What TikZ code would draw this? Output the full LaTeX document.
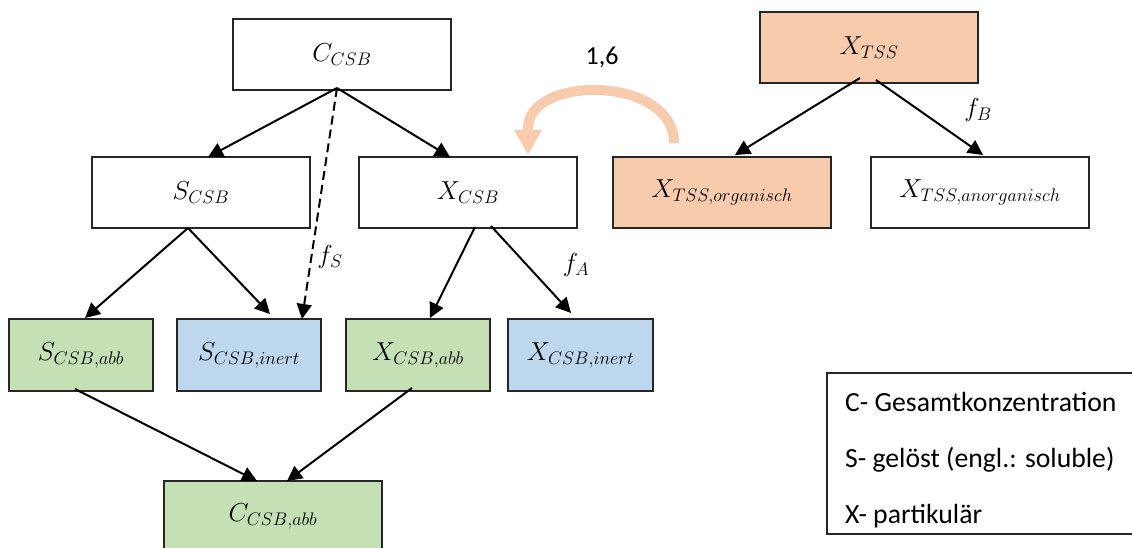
\RequirePackage{fix-cm}
\documentclass[tikz,border=0pt]{standalone}
\usepackage{fontspec}
\setmainfont{Carlito}
\usetikzlibrary{arrows.meta,calc}
\definecolor{orgfill}{HTML}{F8CBAD}
\definecolor{greenfill}{HTML}{C5E0B4}
\definecolor{bluefill}{HTML}{BDD7EE}
\definecolor{arcol}{HTML}{F8CBAD}
\tikzset{
 box/.style={draw=black!85, line width=1.3pt, inner sep=0pt, outer sep=0pt, font=\fontsize{26}{31}\selectfont},
 bigbox/.style={box, minimum width=218pt, minimum height=71pt},
 smallbox/.style={box, minimum width=144pt, minimum height=72pt},
 conn/.style={line width=2pt, -{Triangle[length=15pt,width=15pt]}},
 dconn/.style={conn, dash pattern=on 9pt off 5pt},
 flab/.style={font=\fontsize{26}{31}\selectfont, inner sep=0pt},
 legtext/.style={font=\fontsize{27.7}{32}\selectfont, anchor=base west, inner sep=0pt},
 orarrow/.style={draw=arcol, line width=10pt, -{Triangle[length=25pt,width=26pt]}},
}
\begin{document}
\begin{tikzpicture}[x=1pt,y=-1pt]
\useasboundingbox (0,0) rectangle (1132,548);
\clip (0,0) rectangle (1132,548);
% boxes
\node[bigbox] (ccsb) at (342,54.5) {$C_{CSB}$};
\node[bigbox] (scsb) at (201,192.5) {$S_{CSB}$};
\node[bigbox] (xcsb) at (468,192.5) {$X_{CSB}$};
\node[bigbox, fill=orgfill] (xtss) at (869,47.5) {$X_{TSS}$};
\node[bigbox, fill=orgfill] (xorg) at (722,192.5) {$X_{TSS,organisch}$};
\node[bigbox] (xanorg) at (980,192.5) {$X_{TSS,anorganisch}$};
\node[smallbox, fill=greenfill] (sabb) at (81,355) {$S_{CSB,abb}$};
\node[smallbox, fill=bluefill] (sinert) at (249,355) {$S_{CSB,inert}$};
\node[smallbox, fill=greenfill] (xabb) at (418,355) {$X_{CSB,abb}$};
\node[smallbox, fill=bluefill, minimum width=145pt] (xinert) at (580.5,355) {$X_{CSB,inert}$};
\node[bigbox, fill=greenfill] (cabb) at (273,516.5) {$C_{CSB,abb}$};
% legend
\node[draw=black!85, line width=1.3pt, inner sep=0pt, outer sep=0pt, anchor=north west,
      minimum width=320pt, minimum height=161pt] (legend) at (827,373) {};
\node[legtext] (leg1) at (845,411) {C- Gesamtkonzentration};
\node[legtext] (leg2) at (845,467) {S- gelöst (engl.: soluble)};
\node[legtext] (leg3) at (845,523) {X- partikulär};
% apex points
\coordinate (capex) at ($(ccsb.south)+(-5,-2)$);
\coordinate (sapex) at ($(scsb.south)+(-13,0)$);
% connectors
\draw[conn] (capex) -- ($(scsb.north)+(7,0)$);
\draw[conn] (capex) -- ($(xcsb.north)+(-18,0)$);
\draw[dconn] (capex) -- ($(sinert.north)+(53,0)$);
\draw[conn] (sapex) -- ($(sabb.north)+(4,-1)$);
\draw[conn] (sapex) -- ($(sinert.north)+(21,-5)$);
\draw[conn] ($(xcsb.south)+(7,-1)$) -- ($(xabb.north)+(12,-1)$);
\draw[conn] ($(xcsb.south)+(23,-2)$) -- ($(xinert.north)+(-9.5,-6)$);
\draw[conn] ($(xtss.south)+(-9,-5)$) -- ($(xorg.north)+(13,-2)$);
\draw[conn] ($(xtss.south)+(7,-3)$) -- ($(xanorg.north)+(3,-2)$);
\draw[conn] ($(sabb.south)+(-6,-2)$) -- ($(cabb.north)+(-16,0)$);
\draw[conn] ($(xabb.south)+(-6,-3)$) -- ($(cabb.north)+(14,0)$);
% curved orange arrow
\coordinate (arcend) at ($(xcsb.north)+(60,-2)$);
\draw[orarrow] ($(xorg.north)+(-48,-14)$) .. controls +(0,-68) and +(0,-53) .. ($(arcend)+(0,-27)$) -- (arcend);
% labels
\node[font=\fontsize{26}{30}\selectfont, inner sep=0pt] (lab16) at (602,57) {1,6};
\node[flab] (fs) at (330,257) {$f_S$};
\node[flab] (fa) at (576,265) {$f_A$};
\node[flab] (fb) at (978,110) {$f_B$};
\end{tikzpicture}
\end{document}
